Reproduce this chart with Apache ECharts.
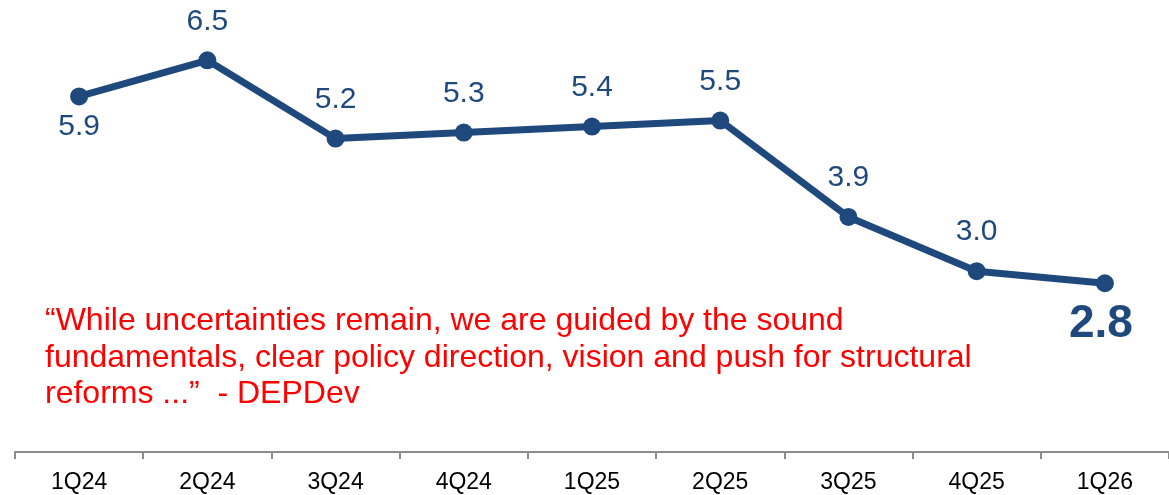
<!DOCTYPE html>
<html>
<head>
<meta charset="utf-8">
<script src="https://cdn.jsdelivr.net/npm/echarts@6/dist/echarts.min.js"></script>
<style>
  html, body { margin: 0; padding: 0; background: #fff; }
  #main { width: 1169px; height: 495px; }
</style>
</head>
<body>
<div id="main"></div>
<script>
// quarterly values
var quarters = ['1Q24', '2Q24', '3Q24', '4Q24', '1Q25', '2Q25', '3Q25', '4Q25', '1Q26'];
var values = [5.9, 6.5, 5.2, 5.3, 5.4, 5.5, 3.9, 3.0, 2.8];
var quote = '\u201cWhile uncertainties remain, we are guided by the sound\nfundamentals, clear policy direction, vision and push for structural\nreforms ...\u201d  - DEPDev';

var blue = '#1f497d';
var last = values.length - 1;

var points = values.map(function (v, i) {
  var item = { value: v };
  if (i === 0) {
    item.label = { position: 'bottom', distance: 6 };
  } else if (i === last) {
    item.label = { position: 'bottom', distance: 9, fontSize: 46, fontWeight: 'bold', offset: [-4, 0] };
  }
  return item;
});

var myChart = echarts.init(document.getElementById('main'));
var option = {
  animation: false,
  grid: { left: 15, right: -1, top: 0, bottom: 43 },
  xAxis: {
    type: 'category',
    data: quarters,
    boundaryGap: true,
    axisLine: { lineStyle: { color: '#8c8c8c', width: 2 } },
    axisTick: { show: true, length: 7, lineStyle: { color: '#8c8c8c', width: 2 } },
    axisLabel: { color: '#000', fontSize: 23, fontFamily: 'Liberation Sans', margin: 19 }
  },
  yAxis: {
    type: 'value',
    min: 0,
    max: 7.5,
    show: false
  },
  series: [{
    type: 'line',
    data: points,
    symbol: 'circle',
    symbolSize: 18,
    lineStyle: { color: blue, width: 7 },
    itemStyle: { color: blue },
    label: {
      show: true,
      position: 'top',
      distance: 15,
      color: blue,
      fontSize: 30,
      fontFamily: 'Liberation Sans',
      formatter: function (p) { return p.value.toFixed(1); }
    }
  }],
  graphic: [{
    type: 'text',
    left: 45,
    top: 303,
    style: {
      text: quote,
      fill: '#ff0000',
      font: '32px "Liberation Sans"',
      lineHeight: 36.5
    }
  }]
};
myChart.setOption(option);
</script>
</body>
</html>
